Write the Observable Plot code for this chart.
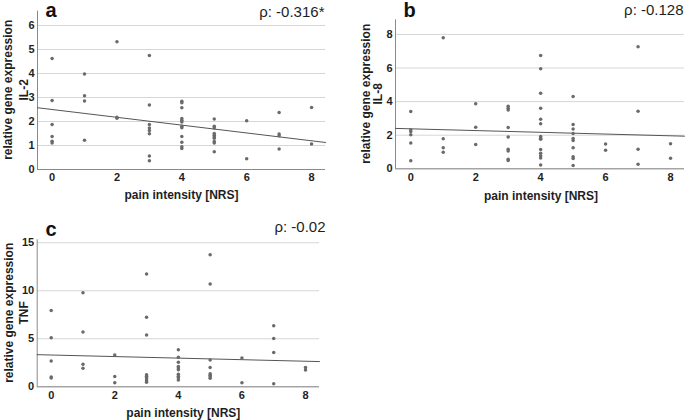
<!DOCTYPE html>
<html>
<head>
<meta charset="utf-8">
<script src="https://cdn.jsdelivr.net/npm/d3@7"></script>
<script src="https://cdn.jsdelivr.net/npm/@observablehq/plot@0.6"></script>
<style>
  html, body { margin: 0; padding: 0; background: #fff; }
  #root { position: relative; width: 685px; height: 420px; overflow: hidden; background: #fff; }
  .panel { position: absolute; }
</style>
</head>
<body>
<div id="root"></div>
<script>
// ---- Data ----
const nrsLevels = [0, 1, 2, 3, 4, 5, 6, 7, 8];
const xTicks = [0, 2, 4, 6, 8];

const il2ByNrs = [
  [4.62, 2.87, 1.88, 1.38, 1.18, 1.1],
  [3.98, 3.07, 2.85, 1.22],
  [5.32, 2.18, 2.14],
  [4.75, 2.69, 1.88, 1.73, 1.62, 1.49, 0.56, 0.36],
  [2.84, 2.78, 2.57, 2.12, 2.05, 1.98, 1.8, 1.74, 1.37, 1.14, 0.95, 0.88],
  [2.1, 1.8, 1.73, 1.5, 1.43, 1.36, 1.3, 1.17, 1.1, 0.74],
  [2.03, 0.45],
  [2.37, 1.48, 1.41, 0.85],
  [2.58, 1.06]
];
const il8ByNrs = [
  [3.41, 2.32, 2.22, 2.03, 1.53, 0.48],
  [7.8, 1.79, 1.26, 0.99],
  [3.87, 2.48, 1.45],
  [3.72, 3.6, 3.5, 2.46, 1.9, 1.16, 1.06, 0.57, 0.5],
  [6.75, 5.95, 4.5, 3.6, 2.95, 2.68, 1.92, 1.82, 1.76, 1.15, 0.92, 0.78, 0.64, 0.22],
  [4.31, 2.64, 2.37, 2.1, 1.8, 1.68, 1.25, 0.72, 0.62, 0.2],
  [1.47, 1.11],
  [7.27, 3.43, 1.17, 0.27],
  [1.49, 0.63]
];
const tnfByNrs = [
  [7.95, 5.1, 2.68, 1.02, 0.92],
  [9.8, 5.7, 2.35, 1.92],
  [3.32, 1.07, 0.41],
  [11.75, 7.25, 5.4, 1.25, 1.1, 0.95, 0.8, 0.62, 0.48],
  [3.85, 3.07, 2.56, 2.12, 1.95, 1.78, 1.3, 1.1, 0.93, 0.72],
  [13.75, 10.7, 2.78, 2.0, 1.35, 1.2, 1.05, 0.88],
  [3.0, 0.42],
  [6.35, 5.02, 3.56, 0.31],
  [2.02, 1.75]
];

const panelLetters = ["a", "b", "c"];
const geneNames = ["IL-2", "IL-8", "TNF"];
const rhoLabels = ["ρ: -0.316*", "ρ: -0.128", "ρ: -0.02"];
const fitIntercepts = [2.5, 2.38, 3.31];
const fitSlopes = [-0.163, -0.052, -0.081];
const yTickSets = [[0, 1, 2, 3, 4, 5, 6], [0, 2, 4, 6, 8], [0, 5, 10, 15]];

// ---- Layout / style ----
const FONT = "'Liberation Sans', Arial, Helvetica, sans-serif";
const layouts = [
  {left: 0, top: 0, width: 340, height: 210, mL: 37, mR: 15, mT: 10.6, mB: 41,
   xDomain: [-0.45, 8.43], yDomain: [0, 6.6],
   yl1x: 7.8, yl2x: 24, xlDx: 0, xlDy: 26,
   letterDx: 8, letterDy: 5.6, rhoDx: -1, rhoDy: 5.5},
  {left: 340, top: 0, width: 345, height: 210, mL: 55, mR: 1, mT: 19.3, mB: 41.7,
   xDomain: [-0.47, 8.43], yDomain: [0, 8.87],
   yl1x: 26.2, yl2x: 38, xlDx: 1, xlDy: 27,
   letterDx: 8, letterDy: -2.6, rhoDx: -1, rhoDy: -5},
  {left: 0, top: 210, width: 340, height: 210, mL: 36.7, mR: 21, mT: 29.3, mB: 33.7,
   xDomain: [-0.44, 8.44], yDomain: [0, 15.31],
   yl1x: 8.3, yl2x: 23.5, xlDx: 5, xlDy: 26.7,
   letterDx: 8.3, letterDy: -4.3, rhoDx: 6, rhoDy: -7.6}
];

const series = [il2ByNrs, il8ByNrs, tnfByNrs];
const root = document.getElementById("root");

series.forEach((byNrs, i) => {
  const L = layouts[i];
  const table = [];
  byNrs.forEach((vals, k) => vals.forEach(v => table.push({nrs: nrsLevels[k], expr: v})));
  const fitLine = L.xDomain.map(x => ({nrs: x, expr: fitIntercepts[i] + fitSlopes[i] * x}));

  const chart = Plot.plot({
    width: L.width,
    height: L.height,
    marginLeft: L.mL,
    marginRight: L.mR,
    marginTop: L.mT,
    marginBottom: L.mB,
    style: {fontFamily: FONT, fontSize: "11px", fontWeight: "bold", color: "#1e1e1e", background: "transparent", overflow: "visible"},
    x: {domain: L.xDomain, ticks: xTicks},
    y: {domain: L.yDomain, ticks: yTickSets[i]},
    marks: [
      Plot.gridY(yTickSets[i], {stroke: "#d6d6d6", strokeOpacity: 1, strokeWidth: 1}),
      Plot.ruleX([L.xDomain[0]], {stroke: "#8a8a8a", strokeWidth: 1}),
      Plot.ruleY([0], {stroke: "#8a8a8a", strokeWidth: 1}),
      Plot.axisX(xTicks, {tickSize: 0, tickPadding: 4, label: null, fontWeight: "bold", fontSize: 11}),
      Plot.axisY(yTickSets[i], {tickSize: 0, tickPadding: 3, label: null, fontWeight: "bold", fontSize: 11}),
      Plot.line(fitLine, {x: "nrs", y: "expr", stroke: "#555555", strokeWidth: 1}),
      Plot.dot(table, {x: "nrs", y: "expr", r: 1.75, fill: "#6a6a6a", stroke: "none"}),
      Plot.text(["pain intensity [NRS]"], {frameAnchor: "bottom", text: d => d, dx: L.xlDx, dy: L.xlDy, textAnchor: "middle", lineAnchor: "middle", fontSize: 12, fontWeight: "bold", fill: "#1e1e1e"}),
      Plot.text([panelLetters[i]], {frameAnchor: "top-left", text: d => d, dx: L.letterDx, dy: L.letterDy, textAnchor: "start", lineAnchor: "bottom", fontSize: 20, fontWeight: "bold", fill: "#111"}),
      Plot.text([rhoLabels[i]], {frameAnchor: "top-right", text: d => d, dx: L.rhoDx, dy: L.rhoDy, textAnchor: "end", lineAnchor: "bottom", fontSize: 15, fontWeight: "normal", fill: "#1e1e1e"})
    ]
  });
  chart.classList.add("panel");
  chart.style.left = L.left + "px";
  chart.style.top = L.top + "px";

  // Two-line rotated y-axis title
  const cy = (L.mT + (L.height - L.mB)) / 2;
  const svg = d3.select(chart);
  [["relative gene expression", L.yl1x], [geneNames[i], L.yl2x]].forEach(([t, cx]) => {
    svg.append("text")
      .attr("transform", `translate(${cx},${cy}) rotate(-90)`)
      .attr("text-anchor", "middle")
      .attr("dy", "0.35em")
      .attr("fill", "#1e1e1e")
      .style("font-family", FONT)
      .style("font-size", "12px")
      .style("font-weight", "bold")
      .text(t);
  });

  root.appendChild(chart);
});
</script>
</body>
</html>
